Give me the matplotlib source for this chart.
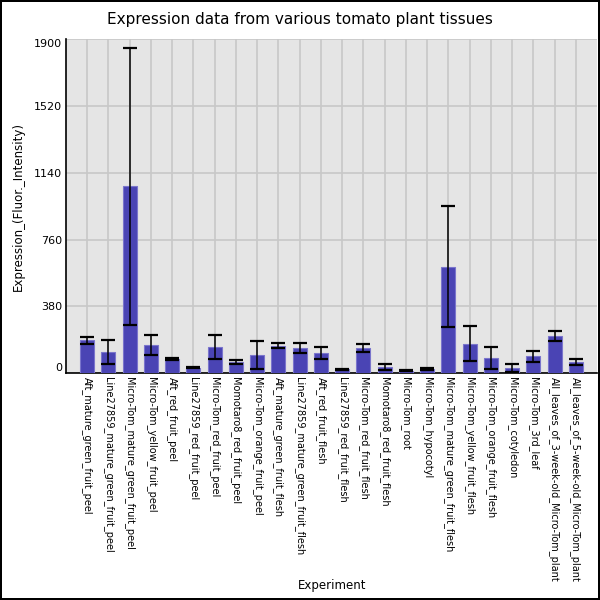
import numpy as np
import matplotlib
matplotlib.use("Agg")
import matplotlib.pyplot as plt

# ---- Dados ----
tecidos = [
    "Aft_mature_green_fruit_peel",
    "Line27859_mature_green_fruit_peel",
    "Micro-Tom_mature_green_fruit_peel",
    "Micro-Tom_yellow_fruit_peel",
    "Aft_red_fruit_peel",
    "Line27859_red_fruit_peel",
    "Micro-Tom_red_fruit_peel",
    "Momotaro8_red_fruit_peel",
    "Micro-Tom_orange_fruit_peel",
    "Aft_mature_green_fruit_flesh",
    "Line27859_mature_green_fruit_flesh",
    "Aft_red_fruit_flesh",
    "Line27859_red_fruit_flesh",
    "Micro-Tom_red_fruit_flesh",
    "Momotaro8_red_fruit_flesh",
    "Micro-Tom_root",
    "Micro-Tom_hypocotyl",
    "Micro-Tom_mature_green_fruit_flesh",
    "Micro-Tom_yellow_fruit_flesh",
    "Micro-Tom_orange_fruit_flesh",
    "Micro-Tom_cotyledon",
    "Micro-Tom_3rd_leaf",
    "All_leaves_of_3-week-old_Micro-Tom_plant",
    "All_leaves_of_5-week-old_Micro-Tom_plant",
]
expressao = [186, 122, 1062, 161, 81, 32, 151, 65, 104, 157, 145, 113,
             23, 143, 33, 15, 22, 605, 167, 87, 30, 95, 213, 63]
erro = [22, 67, 788, 59, 8, 4, 69, 12, 79, 16, 29, 35,
        3, 21, 17, 3, 5, 345, 99, 61, 21, 34, 29, 17]
yticks = [0, 380, 760, 1140, 1520, 1900]

# ---- Figura ----
fig = plt.figure(figsize=(6, 6), dpi=100)
fig.patch.set_facecolor("white")
fig.patch.set_edgecolor("black")
fig.patch.set_linewidth(1.5)

ax = fig.add_axes([0.11, 0.378, 0.885, 0.557])
ax.set_facecolor("#e5e5e5")

x = np.arange(len(tecidos))
ax.bar(x, expressao, width=0.66, color="#4a44b4", edgecolor="#7a75cc",
       linewidth=0.8, zorder=3)
ax.errorbar(x, expressao, yerr=erro, fmt="none", ecolor="black",
            elinewidth=1.1, capsize=4.8, capthick=1.6, zorder=4)

ax.set_xlim(-1, len(tecidos))
ax.set_ylim(0, 1900)
ax.set_yticks(yticks)
ax.set_yticklabels([str(v) for v in yticks], fontsize=8)
ax.set_xticks(x)
ax.set_xticklabels(tecidos, rotation=270, fontsize=7, va="top", ha="center")
ax.tick_params(length=0, pad=3)

# rotulos das pontas ficam dentro do eixo
ylabs = ax.get_yticklabels()
ylabs[0].set_va("bottom")
ylabs[-1].set_va("top")

ax.grid(True, color="#c8c8c8", linewidth=1.2, zorder=0)
ax.set_axisbelow(True)
for lado in ["top", "right"]:
    ax.spines[lado].set_visible(False)
ax.spines["left"].set_linewidth(1.2)
ax.spines["bottom"].set_linewidth(1.2)

fig.text(0.5, 0.967, "Expression data from various tomato plant tissues",
         ha="center", va="center", fontsize=11)
fig.text(0.03, 0.656, "Expression_(Fluor._Intensity)", rotation=90,
         ha="center", va="center", fontsize=8.5)
fig.text(0.553, 0.025, "Experiment", ha="center", va="center", fontsize=8.5)

fig.savefig("out.png", dpi=100)
